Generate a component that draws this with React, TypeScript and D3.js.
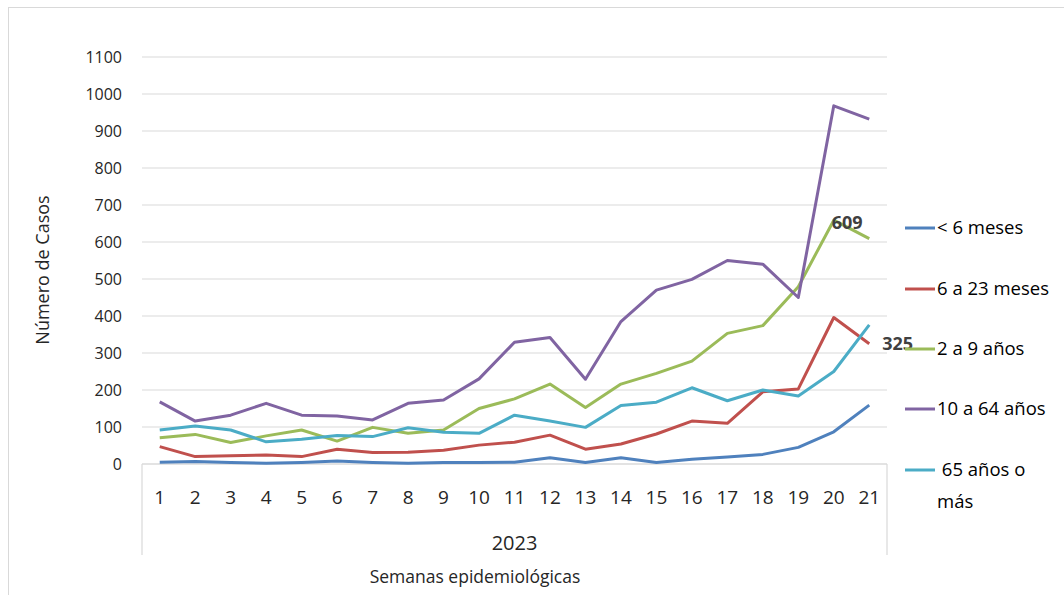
import * as d3 from 'd3';

const weeks = d3.range(1, 22).map(String);
const yTicks = d3.range(0, 1200, 100);

const menos6Meses = [5, 7, 4, 2, 4, 8, 4, 2, 4, 4, 5, 17, 4, 17, 4, 13, 19, 26, 45, 87, 159];
const de6a23Meses = [47, 20, 22, 24, 20, 40, 31, 32, 37, 51, 59, 78, 40, 54, 81, 116, 110, 195, 203, 396, 325];
const de2a9Anios = [71, 80, 58, 76, 92, 62, 99, 83, 92, 150, 176, 216, 153, 216, 245, 278, 353, 374, 479, 659, 609];
const de10a64Anios = [168, 116, 132, 164, 132, 130, 119, 164, 173, 230, 329, 342, 229, 385, 470, 499, 550, 540, 450, 968, 932];
const mas65Anios = [92, 103, 92, 60, 67, 77, 74, 98, 86, 83, 132, 116, 99, 158, 167, 206, 171, 200, 184, 250, 376];

const series = [
  { name: '< 6 meses', values: menos6Meses, color: '#4F81BD' },
  { name: '6 a 23 meses', values: de6a23Meses, color: '#C0504D' },
  { name: '2 a 9 años', values: de2a9Anios, color: '#9BBB59' },
  { name: '10 a 64 años', values: de10a64Anios, color: '#8064A2' },
  { name: ' 65 años o', values: mas65Anios, color: '#4BACC6', line2: 'más' },
];

const W = 1064;
const H = 595;
const left = 142;
const right = 887;
const top = 57;
const bottom = 464;
const font = '"Open Sans", sans-serif';

export default function App() {
  const x = d3.scaleBand().domain(weeks).range([left, right]);
  const y = d3.scaleLinear().domain([0, 1100]).range([bottom, top]);
  const line = d3
    .line<number>()
    .x((_, i) => (x(weeks[i]) as number) + x.bandwidth() / 2)
    .y((d) => y(d));

  const legendY = [228, 289, 349, 409, 470];
  const last = weeks.length - 1;
  const cx = (i: number) => (x(weeks[i]) as number) + x.bandwidth() / 2;

  return (
    <svg width={W} height={H} style={{ position: 'absolute', left: 0, top: 0, fontFamily: font }}>
      <rect x={0} y={0} width={W} height={H} fill="#fff" />
      {/* outer chart border */}
      <rect x={8.5} y={7.5} width={W + 20} height={H + 20} fill="none" stroke="#d9d9d9" />

      {/* gridlines */}
      {yTicks.map((t) => (
        <line key={t} x1={left} x2={right} y1={y(t)} y2={y(t)} stroke="#d9d9d9" strokeWidth={1.2} />
      ))}
      {/* category axis box */}
      <line x1={left} x2={right} y1={bottom} y2={bottom} stroke="#d9d9d9" strokeWidth={1.2} />
      <line x1={left} x2={left} y1={bottom} y2={555} stroke="#d9d9d9" strokeWidth={1.2} />
      <line x1={right} x2={right} y1={bottom} y2={555} stroke="#d9d9d9" strokeWidth={1.2} />

      {/* y ticks */}
      {yTicks.map((t) => (
        <text key={t} x={122} y={y(t)} dy="0.35em" textAnchor="end" fontSize={16} fill="#262626">
          {t}
        </text>
      ))}
      {/* x ticks */}
      {weeks.map((w) => (
        <text key={w} x={(x(w) as number) + x.bandwidth() / 2} y={497} dy="0.35em" textAnchor="middle" fontSize={19} fill="#262626">
          {w}
        </text>
      ))}
      <text x={(left + right) / 2} y={543} dy="0.35em" textAnchor="middle" fontSize={20} fill="#262626">
        2023
      </text>
      <text x={475} y={577} dy="0.35em" textAnchor="middle" fontSize={17.5} fill="#262626">
        Semanas epidemiológicas
      </text>
      <text transform="translate(43,270) rotate(-90)" dy="0.35em" textAnchor="middle" fontSize={18} fill="#262626">
        Número de Casos
      </text>

      {/* lines */}
      {series.map((s) => (
        <path key={s.name} d={line(s.values) as string} fill="none" stroke={s.color} strokeWidth={3} strokeLinejoin="round" />
      ))}

      {/* data labels */}
      <text x={cx(last - 1) - 2} y={y(de2a9Anios[last])} dy="-0.55em" fontSize={18} fontWeight="bold" fill="#404040">
        {de2a9Anios[last]}
      </text>
      <text x={cx(last) + 13} y={y(de6a23Meses[last])} dy="0.35em" fontSize={18} fontWeight="bold" fill="#404040">
        {de6a23Meses[last]}
      </text>

      {/* legend */}
      {series.map((s, i) => (
        <g key={s.name}>
          <line x1={905} x2={935} y1={legendY[i]} y2={legendY[i]} stroke={s.color} strokeWidth={3} />
          <text x={937} y={legendY[i]} dy="0.35em" fontSize={18.5} fill="#000" style={{ whiteSpace: 'pre' }}>
            {s.name}
          </text>
          {s.line2 && (
            <text x={937} y={legendY[i] + 32} dy="0.35em" fontSize={18.5} fill="#000">
              {s.line2}
            </text>
          )}
        </g>
      ))}
    </svg>
  );
}
